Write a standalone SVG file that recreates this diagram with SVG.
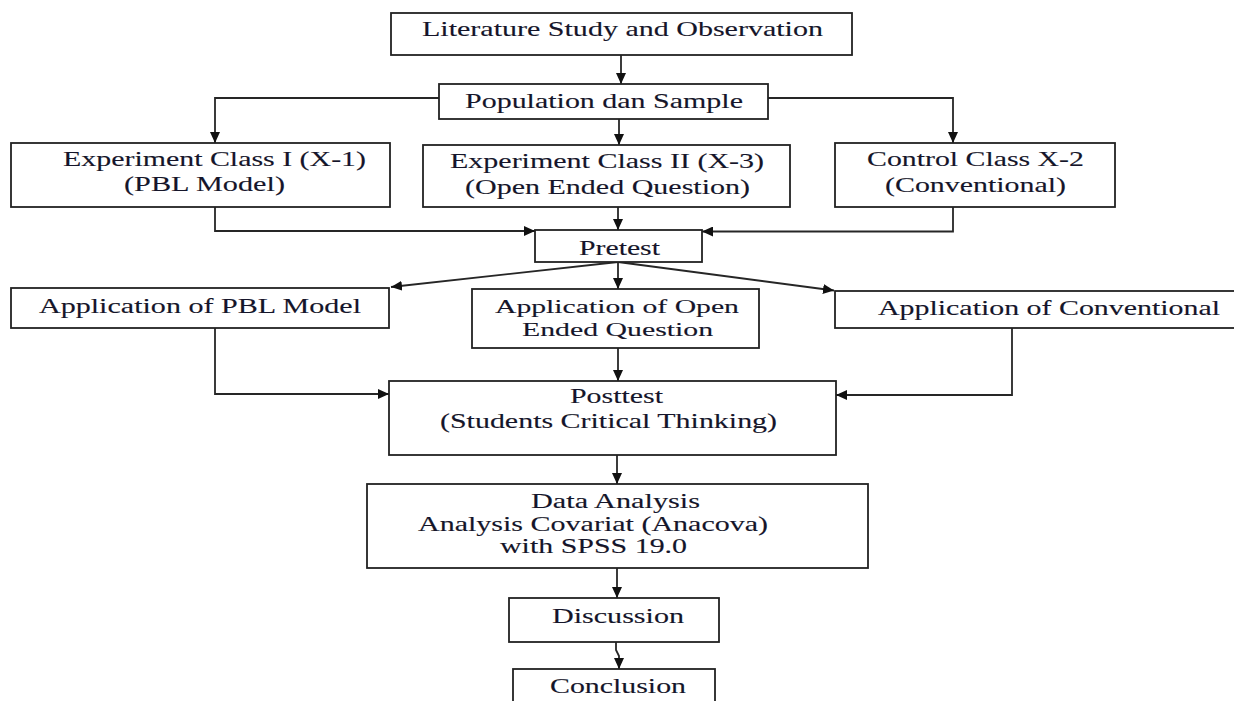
<svg xmlns="http://www.w3.org/2000/svg" width="1234" height="701" viewBox="0 0 1234 701">
  <style>
    .box { fill: #ffffff; stroke: #222222; stroke-width: 1.8; }
    .lbl { font-family: "Liberation Serif", "Times New Roman", serif; font-size: 21px; fill: #15152a; stroke: #15152a; stroke-width: 0.12; }
    .tight { font-size: 19.5px; }
    .edge { fill: none; stroke: #262626; stroke-width: 1.8; marker-end: url(#arrow); }
  </style>
  <defs>
    <marker id="arrow" markerUnits="userSpaceOnUse" markerWidth="11" markerHeight="10" refX="11" refY="5" orient="auto">
      <path d="M0,0 L11,5 L0,10 z" fill="#111111"/>
    </marker>
  </defs>
  <rect width="1234" height="701" fill="#ffffff"/>

  <g id="connectors">
    <path class="edge" d="M621,55 V84"/>
    <path class="edge" d="M439,98 H215 V143"/>
    <path class="edge" d="M619,119 V145"/>
    <path class="edge" d="M768,98 H953 V143"/>
    <path class="edge" d="M215,207 V231 H535"/>
    <path class="edge" d="M618,207 V230"/>
    <path class="edge" d="M953,207 V231.5 H702"/>
    <path class="edge" d="M618,262 L391,287"/>
    <path class="edge" d="M618,262 V289"/>
    <path class="edge" d="M618,262 L834,290.5"/>
    <path class="edge" d="M215,328 V394 H389"/>
    <path class="edge" d="M618,348 V381"/>
    <path class="edge" d="M1012,328 V395 H836"/>
    <path class="edge" d="M617,455 V484"/>
    <path class="edge" d="M617,568 V598"/>
    <path class="edge" d="M616,642 V650 L619,656 V669"/>
  </g>

  <!-- labels are set in a wide face: glyphs stretched horizontally -->
  <g id="literature">
    <rect class="box" x="391" y="13" width="461" height="42"/>
    <text class="lbl" transform="translate(422 36) scale(1.43 1)" textLength="280.4" lengthAdjust="spacingAndGlyphs">Literature Study and Observation</text>
  </g>
  <g id="population">
    <rect class="box" x="439" y="84" width="329" height="35"/>
    <text class="lbl" transform="translate(465 107.5) scale(1.43 1)" textLength="194.4" lengthAdjust="spacingAndGlyphs">Population dan Sample</text>
  </g>
  <g id="experiment-1">
    <rect class="box" x="11" y="143" width="379" height="64"/>
    <text class="lbl" transform="translate(63 166) scale(1.43 1)" textLength="211.9" lengthAdjust="spacingAndGlyphs">Experiment Class I (X-1)</text>
    <text class="lbl" transform="translate(124 191) scale(1.43 1)" textLength="112.6" lengthAdjust="spacingAndGlyphs">(PBL Model)</text>
  </g>
  <g id="experiment-2">
    <rect class="box" x="423" y="145" width="367" height="62"/>
    <text class="lbl" transform="translate(450 168) scale(1.43 1)" textLength="219.6" lengthAdjust="spacingAndGlyphs">Experiment Class II (X-3)</text>
    <text class="lbl" transform="translate(465 194) scale(1.43 1)" textLength="199.3" lengthAdjust="spacingAndGlyphs">(Open Ended Question)</text>
  </g>
  <g id="control">
    <rect class="box" x="835" y="143" width="280" height="64"/>
    <text class="lbl" transform="translate(867 166) scale(1.43 1)" textLength="151.7" lengthAdjust="spacingAndGlyphs">Control Class X-2</text>
    <text class="lbl" transform="translate(885 192) scale(1.43 1)" textLength="126.6" lengthAdjust="spacingAndGlyphs">(Conventional)</text>
  </g>
  <g id="pretest">
    <rect class="box" x="535" y="230" width="167" height="32"/>
    <text class="lbl" transform="translate(579 255) scale(1.43 1)" textLength="56.6" lengthAdjust="spacingAndGlyphs">Pretest</text>
  </g>
  <g id="app-pbl">
    <rect class="box" x="11" y="288" width="378" height="40"/>
    <text class="lbl" transform="translate(39 313) scale(1.43 1)" textLength="225.2" lengthAdjust="spacingAndGlyphs">Application of PBL Model</text>
  </g>
  <g id="app-open">
    <rect class="box" x="472" y="289" width="287" height="59"/>
    <text class="lbl tight" transform="translate(495 313) scale(1.43 1)" textLength="170.6" lengthAdjust="spacingAndGlyphs">Application of Open</text>
    <text class="lbl tight" transform="translate(522 336) scale(1.43 1)" textLength="133.6" lengthAdjust="spacingAndGlyphs">Ended Question</text>
  </g>
  <g id="app-conventional">
    <rect class="box" x="835" y="291" width="410" height="37"/>
    <text class="lbl" transform="translate(878 315) scale(1.43 1)" textLength="239.2" lengthAdjust="spacingAndGlyphs">Application of Conventional</text>
  </g>
  <g id="posttest">
    <rect class="box" x="389" y="381" width="447" height="74"/>
    <text class="lbl" transform="translate(570 403) scale(1.43 1)" textLength="65" lengthAdjust="spacingAndGlyphs">Posttest</text>
    <text class="lbl" transform="translate(440 428) scale(1.43 1)" textLength="235.7" lengthAdjust="spacingAndGlyphs">(Students Critical Thinking)</text>
  </g>
  <g id="data-analysis">
    <rect class="box" x="367" y="484" width="501" height="84"/>
    <text class="lbl" transform="translate(531 508) scale(1.43 1)" textLength="118.2" lengthAdjust="spacingAndGlyphs">Data Analysis</text>
    <text class="lbl" transform="translate(418 531) scale(1.43 1)" textLength="244.8" lengthAdjust="spacingAndGlyphs">Analysis Covariat (Anacova)</text>
    <text class="lbl" transform="translate(500 553) scale(1.43 1)" textLength="130.8" lengthAdjust="spacingAndGlyphs">with SPSS 19.0</text>
  </g>
  <g id="discussion">
    <rect class="box" x="509" y="598" width="210" height="44"/>
    <text class="lbl" transform="translate(552 623) scale(1.43 1)" textLength="92.3" lengthAdjust="spacingAndGlyphs">Discussion</text>
  </g>
  <g id="conclusion">
    <rect class="box" x="513" y="669" width="202" height="40"/>
    <text class="lbl" transform="translate(550 693) scale(1.43 1)" textLength="95.1" lengthAdjust="spacingAndGlyphs">Conclusion</text>
  </g>
</svg>
